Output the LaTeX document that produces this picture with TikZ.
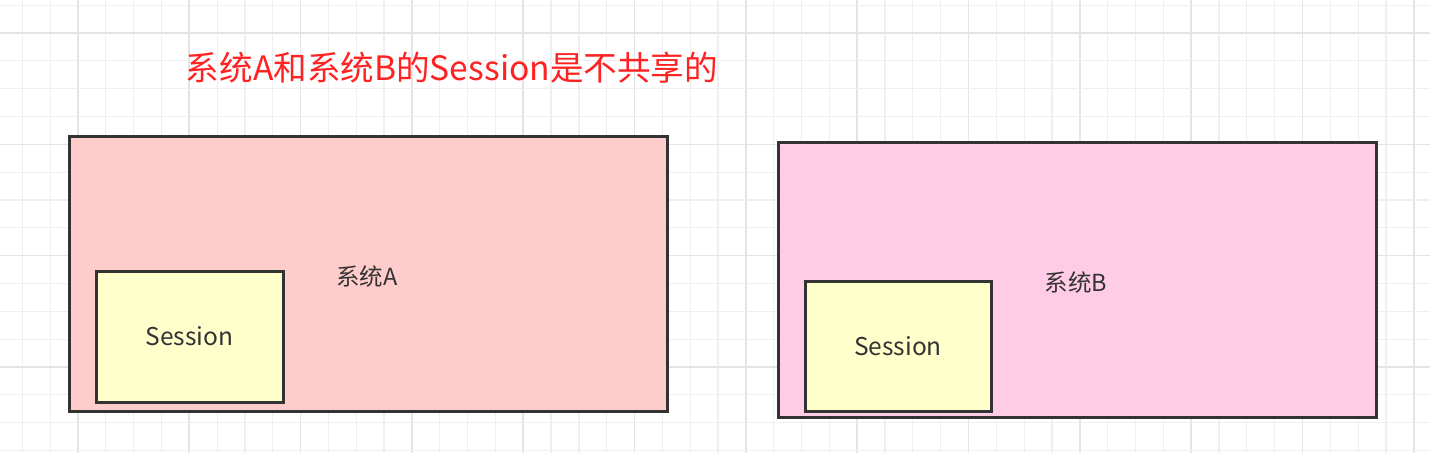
\documentclass[tikz,border=0pt]{standalone}
\usepackage{fontspec}
\setmainfont{Noto Sans CJK SC}
\definecolor{gridminor}{HTML}{EFEFEF}
\definecolor{gridmajor}{HTML}{E4E4E4}
\definecolor{sysApink}{HTML}{FFCCCC}
\definecolor{sysBpink}{HTML}{FFCCE6}
\definecolor{sessyellow}{HTML}{FFFFCC}
\definecolor{edgegray}{HTML}{333333}
\definecolor{titlered}{HTML}{FF2222}
\tikzset{
 % outer system box
 sysbox/.style={draw=edgegray, line width=3pt, fill=#1, minimum width=598pt, minimum height=275pt, inner sep=0pt},
 sessbox/.style={draw=edgegray, line width=3pt, fill=sessyellow, text=edgegray, minimum width=187pt, minimum height=131pt, inner sep=0pt, font=\fontsize{24.5}{28}\selectfont},
 syslabel/.style={text=edgegray, inner sep=0pt, font=\fontsize{23.5}{27}\selectfont}
}

\begin{document}
\begin{tikzpicture}[x=1pt, y=-1pt]
 \useasboundingbox (0, 0) rectangle (1430, 453);
 \fill [white] (0, 0) rectangle (1430, 453);

 % background grid
 \foreach \k in {0,...,50} {
  \pgfmathsetmacro{\gx}{22.3 + 27.83*\k}
  \pgfmathtruncatemacro{\gm}{mod(\k, 4)}
  \ifnum\gm=2
   \draw [gridmajor, line width=1.6pt] (\gx, 0) -- (\gx, 453);
  \else
   \draw [gridminor, line width=1.2pt] (\gx, 0) -- (\gx, 453);
  \fi
 }
 \foreach \k in {0,...,16} {
  \pgfmathsetmacro{\gy}{5.2 + 27.83*\k}
  \pgfmathtruncatemacro{\gm}{mod(\k, 4)}
  \ifnum\gm=1
   \draw [gridmajor, line width=1.6pt] (0, \gy) -- (1430, \gy);
  \else
   \draw [gridminor, line width=1.2pt] (0, \gy) -- (1430, \gy);
  \fi
 }

 \node [text=titlered, font=\fontsize{33.6}{38}\selectfont] (title) at (452, 67.5) {系统A和系统B的Session是不共享的};

 \node [sysbox=sysApink] (sysA) at (368, 273.5) {};
 \node [syslabel] (sysA label) at (367, 276) {系统A};
 \node [sessbox] (sessA) at (189.5, 336.5) {Session};

 \node [sysbox=sysBpink] (sysB) at (1077, 279.5) {};
 \node [syslabel] (sysB label) at (1076, 282) {系统B};
 \node [sessbox, minimum width=186pt, minimum height=130pt] (sessB) at (898, 346) {Session};
\end{tikzpicture}
\end{document}
